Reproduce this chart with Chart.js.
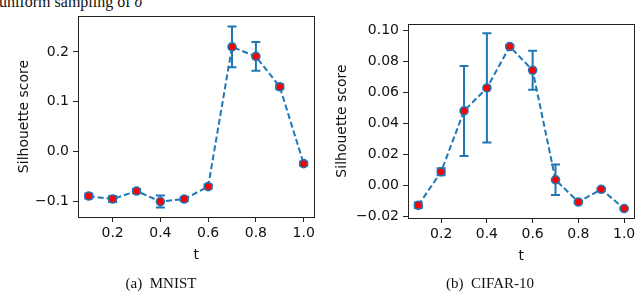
<!DOCTYPE html>
<html>
<head>
<meta charset="utf-8">
<script src="https://cdn.jsdelivr.net/npm/chart.js@4.4.1/dist/chart.umd.min.js"></script>
<style>
  body { margin: 0; width: 640px; height: 291px; position: relative; background: #fff; overflow: hidden; }
  .panel { position: absolute; top: 0; width: 320px; height: 291px; }
  .serif { position: absolute; font-family: "Liberation Serif", "Times New Roman", serif; color: #111; white-space: nowrap; }
  #topTitle { left: -1px; top: -6px; font-size: 16px; line-height: 16px; }
  .cap { top: 274px; font-size: 15px; line-height: 18px; transform: translateX(-50%); }
</style>
</head>
<body>
<div class="serif" id="topTitle">uniform sampling of <i>σ</i></div>
<div class="panel" style="left:0"><canvas id="mnistChart"></canvas></div>
<div class="panel" style="left:320px"><canvas id="cifarChart"></canvas></div>
<div class="serif cap" style="left:161px">(a)&nbsp; MNIST</div>
<div class="serif cap" style="left:490px">(b)&nbsp; CIFAR-10</div>
<script>
const tValues = [0.1, 0.2, 0.3, 0.4, 0.5, 0.6, 0.7, 0.8, 0.9, 1.0];

const mnistScore = [-0.089, -0.095, -0.079, -0.100, -0.095, -0.070, 0.210, 0.191, 0.130, -0.024];
const mnistErr = [0.005, 0.006, 0.004, 0.012, 0.004, 0.004, 0.041, 0.029, 0.005, 0.004];

const cifarScore = [-0.0128, 0.0088, 0.0480, 0.0628, 0.0895, 0.0742, 0.0036, -0.0107, -0.0025, -0.0149];
const cifarErr = [0.0018, 0.0022, 0.0290, 0.0352, 0.0008, 0.0125, 0.0098, 0.0008, 0.0008, 0.0006];

const xTickValues = [0.2, 0.4, 0.6, 0.8, 1.0];
const mnistYTicks = [-0.1, 0.0, 0.1, 0.2];
const cifarYTicks = [-0.02, 0.0, 0.02, 0.04, 0.06, 0.08, 0.10];

const BLUE = "#1f77b4";
const FONT = "\"DejaVu Sans\", sans-serif";

Chart.register({
  id: "errorBars",
  beforeDatasetsDraw(chart, args, opts) {
    if (!opts || !opts.errors) return;
    const ctx = chart.ctx;
    const xs = chart.scales.x;
    const ys = chart.scales.y;
    const cap = opts.capHalf || 4.5;
    ctx.save();
    ctx.strokeStyle = BLUE;
    ctx.lineWidth = 2;
    ctx.setLineDash([]);
    chart.data.datasets[0].data.forEach((p, i) => {
      const e = opts.errors[i];
      const x = xs.getPixelForValue(p.x);
      const yTop = ys.getPixelForValue(p.y + e);
      const yBot = ys.getPixelForValue(p.y - e);
      ctx.beginPath();
      ctx.moveTo(x, yTop); ctx.lineTo(x, yBot);
      ctx.moveTo(x - cap, yTop); ctx.lineTo(x + cap, yTop);
      ctx.moveTo(x - cap, yBot); ctx.lineTo(x + cap, yBot);
      ctx.stroke();
    });
    ctx.restore();
  }
});

Chart.register({
  id: "frameBox",
  afterDraw(chart) {
    const a = chart.chartArea;
    const ctx = chart.ctx;
    ctx.save();
    ctx.strokeStyle = "#222";
    ctx.lineWidth = 1;
    ctx.strokeRect(Math.round(a.left) + 0.5, Math.round(a.top) + 0.5,
      Math.round(a.right - a.left), Math.round(a.bottom - a.top));
    ctx.restore();
  }
});

function fmtTick(v, decimals) {
  if (Math.abs(v) < 1e-9) v = 0;
  return (v < 0 ? "\u2212" : "") + Math.abs(v).toFixed(decimals);
}

function createPanel(canvasNode, scores, errors, yTicks, yMin, yMax, decimals, yAxisWidth, yTitlePad, pad) {
  return new Chart(canvasNode, {
    type: "line",
    data: {
      datasets: [{
        data: tValues.map((t, i) => ({ x: t, y: scores[i] })),
        borderColor: BLUE,
        borderWidth: 2,
        borderDash: [6, 3],
        pointRadius: 4,
        pointBorderWidth: 1.6,
        pointBackgroundColor: "#ff0000",
        pointBorderColor: BLUE,
        tension: 0,
        fill: false
      }]
    },
    options: {
      responsive: true,
      maintainAspectRatio: false,
      animation: false,
      events: [],
      layout: { padding: pad },
      plugins: {
        legend: { display: false },
        tooltip: { enabled: false },
        errorBars: { errors: errors, capHalf: 4.5 }
      },
      scales: {
        x: {
          type: "linear",
          min: 0.055,
          max: 1.045,
          afterBuildTicks: (scale) => { scale.ticks = xTickValues.map((v) => ({ value: v })); },
          afterFit: (scale) => { scale.height = 47; },
          grid: { drawOnChartArea: false, drawTicks: true, tickLength: 5, color: "#222", tickColor: "#222" },
          border: { display: true, color: "#222" },
          ticks: {
            color: "#111",
            padding: 3,
            maxRotation: 0,
            font: { family: FONT, size: 14 },
            callback: (v) => fmtTick(v, 1)
          },
          title: {
            display: true,
            text: "t",
            color: "#111",
            padding: { top: 0, bottom: 0 },
            font: { family: FONT, size: 14 }
          }
        },
        y: {
          min: yMin,
          max: yMax,
          afterBuildTicks: (scale) => { scale.ticks = yTicks.map((v) => ({ value: v })); },
          afterFit: (scale) => { scale.width = yAxisWidth; },
          grid: { drawOnChartArea: false, drawTicks: true, tickLength: 5, color: "#222", tickColor: "#222" },
          border: { display: true, color: "#222" },
          ticks: {
            color: "#111",
            padding: 4,
            font: { family: FONT, size: 14 },
            callback: (v) => fmtTick(v, decimals)
          },
          title: {
            display: true,
            text: "Silhouette score",
            color: "#111",
            padding: { top: yTitlePad, bottom: 0 },
            font: { family: FONT, size: 14 }
          }
        }
      }
    }
  });
}

createPanel(document.getElementById("mnistChart"), mnistScore, mnistErr, mnistYTicks,
  -0.131, 0.272, 1, 78, 16, { left: 0, right: 5, top: 16, bottom: 27 });
createPanel(document.getElementById("cifarChart"), cifarScore, cifarErr, cifarYTicks,
  -0.021, 0.104, 2, 88, 14, { left: 0, right: 5, top: 24, bottom: 26 });
</script>
</body>
</html>
